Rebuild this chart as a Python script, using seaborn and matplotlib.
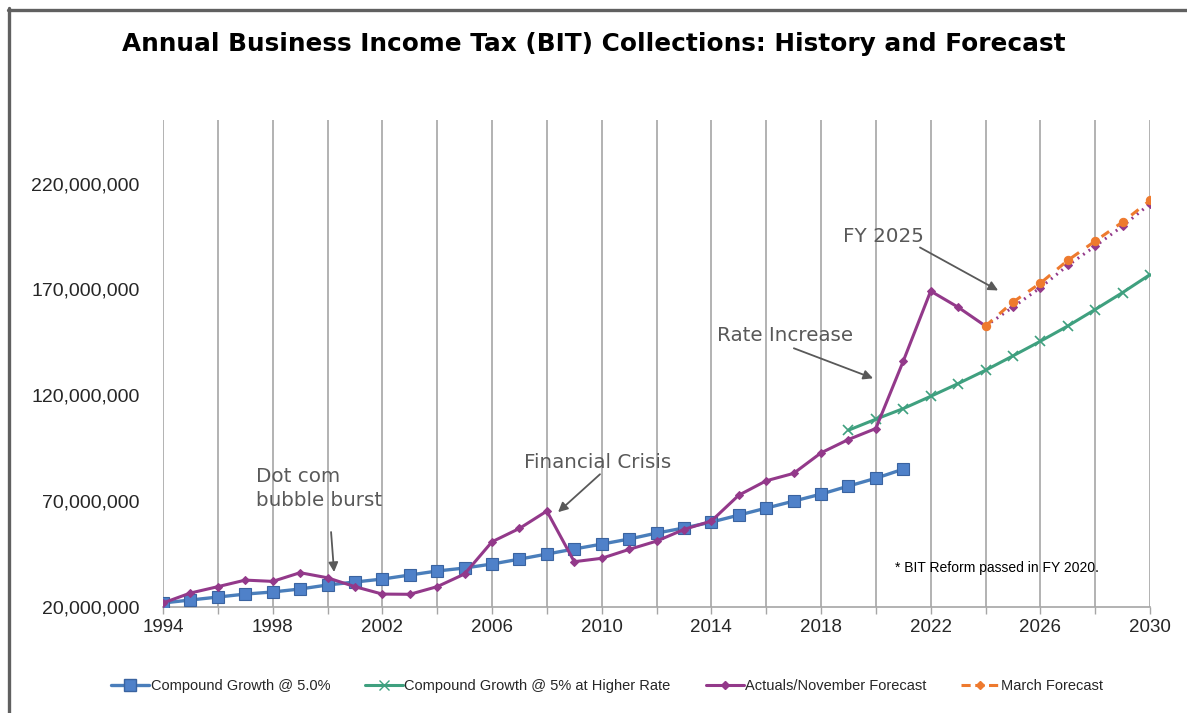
import numpy as np
import pandas as pd
import matplotlib
matplotlib.use("Agg")
import matplotlib.pyplot as plt
from matplotlib.lines import Line2D
import seaborn as sns

# ---- data (dollars, in millions) ----
years_hist = list(range(1994, 2022))
compound_5 = [21.9, 23.3, 24.7, 26.1, 27.1, 28.5, 30.4, 31.8, 33.2, 35.1,
              37.0, 38.4, 40.3, 42.6, 45.0, 47.4, 49.7, 52.1, 54.9, 57.3,
              60.1, 63.4, 66.7, 70.0, 73.3, 77.1, 80.8, 85.1]

years_higher = list(range(2019, 2031))
compound_higher = [103.5, 108.7, 113.7, 119.5, 125.5, 131.8, 138.6, 145.5,
                   152.7, 160.5, 168.5, 177.0]

years_actual = list(range(1994, 2025))
actuals = [21.9, 26.6, 29.6, 32.7, 32.1, 36.2, 33.8, 29.6, 26.1, 26.0,
           29.6, 35.6, 50.8, 57.1, 65.3, 41.4, 43.0, 47.2, 51.1, 56.6,
           60.6, 72.8, 79.6, 83.1, 92.8, 99.1, 104.3, 136.1, 169.2, 161.6,
           152.7]

years_fcst = list(range(2024, 2031))
november_fcst = [152.7, 161.6, 170.8, 181.3, 190.4, 199.9, 210.4]
march_fcst = [152.7, 164.0, 172.9, 183.7, 192.8, 201.8, 212.0]

y_ticks = [20, 70, 120, 170, 220]
x_labels = [1994, 1998, 2002, 2006, 2010, 2014, 2018, 2022, 2026, 2030]

title = "Annual Business Income Tax (BIT) Collections: History and Forecast"
legend_labels = ["Compound Growth @ 5.0%", "Compound Growth @ 5% at Higher Rate",
                 "Actuals/November Forecast", "March Forecast"]

M = 1e6
df_c5 = pd.DataFrame({"year": years_hist, "value": np.array(compound_5) * M})
df_hi = pd.DataFrame({"year": years_higher, "value": np.array(compound_higher) * M})
df_act = pd.DataFrame({"year": years_actual, "value": np.array(actuals) * M})
df_nov = pd.DataFrame({"year": years_fcst, "value": np.array(november_fcst) * M})
df_mar = pd.DataFrame({"year": years_fcst, "value": np.array(march_fcst) * M})

# ---- style ----
sns.set_theme(style="white")
plt.rcParams["font.family"] = ["Liberation Sans", "DejaVu Sans"]

BLUE = "#4A7EBB"
BLUE_FACE = "#4F81C9"
GREEN = "#3FA07F"
PURPLE = "#93398A"
ORANGE = "#EE7A2E"
NOTE = "#595959"

fig = plt.figure(figsize=(11.87, 7.13), dpi=100)
ax = fig.add_axes([163 / 1187, 1 - 607 / 713, (1150 - 163) / 1187, (607 - 120) / 713])

sns.lineplot(data=df_c5, x="year", y="value", ax=ax, color=BLUE, lw=2.4,
             marker="s", markersize=8, markerfacecolor=BLUE_FACE,
             markeredgecolor="#3A63A0", markeredgewidth=0.8, zorder=4)
sns.lineplot(data=df_hi, x="year", y="value", ax=ax, color=GREEN, lw=2.2,
             marker="x", markersize=7, markeredgecolor=GREEN,
             markeredgewidth=1.2, zorder=4)
sns.lineplot(data=df_act, x="year", y="value", ax=ax, color=PURPLE, lw=2.2,
             marker="D", markersize=4, markerfacecolor=PURPLE,
             markeredgecolor=PURPLE, zorder=5)
sns.lineplot(data=df_nov, x="year", y="value", ax=ax, color=PURPLE, lw=2.2,
             linestyle=(0, (0.6, 1.6)), marker="D", markersize=4,
             markerfacecolor=PURPLE, markeredgecolor=PURPLE, zorder=5)
sns.lineplot(data=df_mar, x="year", y="value", ax=ax, color=ORANGE, lw=2.2,
             linestyle=(0, (3, 3)), marker="o", markersize=6,
             markerfacecolor=ORANGE, markeredgecolor=ORANGE, zorder=6)

# ---- axes ----
ax.set_xlim(1994, 2030)
ax.set_ylim(20 * M, 250 * M)
ax.set_xticks(range(1994, 2031, 2))
ax.set_xticklabels([str(y) if y in x_labels else "" for y in range(1994, 2031, 2)],
                   fontsize=13.5)
ax.set_yticks([v * M for v in y_ticks])
ax.set_yticklabels([f"{v * 1_000_000:,.0f}" for v in y_ticks], fontsize=14)
ax.tick_params(axis="x", direction="out", length=5, width=1, color="#A6A6A6",
               pad=4, bottom=True)
ax.tick_params(axis="y", length=0, pad=17)
ax.set_xlabel("")
ax.set_ylabel("")
ax.grid(axis="x", color="#A6A6A6", lw=1.2)
ax.grid(axis="y", visible=False)
for side in ["top", "right", "left"]:
    ax.spines[side].set_visible(False)
ax.spines["bottom"].set_color("#A6A6A6")
ax.spines["bottom"].set_linewidth(1.2)
if ax.get_legend() is not None:
    ax.get_legend().remove()

# ---- annotations ----
arrow = dict(arrowstyle="-|>", color=NOTE, lw=1.3, mutation_scale=14,
             shrinkA=0, shrinkB=0)
note_font = dict(fontsize=14.3, color=NOTE, family=["DejaVu Sans"])

ax.text(1997.39, 86.2 * M, "Dot com\nbubble burst", va="top", ha="left",
        linespacing=1.32, **note_font)
ax.annotate("", xy=(2000.24, 36.5 * M), xytext=(2000.13, 55.4 * M), arrowprops=arrow)

ax.text(2007.17, 92.6 * M, "Financial Crisis", va="top", ha="left", **note_font)
ax.annotate("", xy=(2008.41, 64.8 * M), xytext=(2009.94, 82.7 * M), arrowprops=arrow)

ax.text(2014.21, 152.5 * M, "Rate Increase", va="top", ha="left", **note_font)
ax.annotate("", xy=(2019.90, 128.0 * M), xytext=(2017.01, 142.2 * M), arrowprops=arrow)

ax.text(2018.80, 199.6 * M, "FY 2025", va="top", ha="left", **note_font)
ax.annotate("", xy=(2024.46, 169.5 * M), xytext=(2021.61, 189.8 * M), arrowprops=arrow)

ax.text(2020.70, 38.4 * M, "* BIT Reform passed in FY 2020.", va="center",
        ha="left", fontsize=10, color="black")

# ---- title ----
fig.text(594 / 1187, 1 - 44 / 713, title, ha="center", va="center",
         fontsize=17.8, fontweight="bold", color="black", family=["DejaVu Sans"])

# ---- legend ----
handles = [
    Line2D([], [], color=BLUE, lw=2.4, marker="s", markersize=8,
           markerfacecolor=BLUE_FACE, markeredgecolor="#3A63A0"),
    Line2D([], [], color=GREEN, lw=2.2, marker="x", markersize=7,
           markeredgecolor=GREEN),
    Line2D([], [], color=PURPLE, lw=2.2, marker="D", markersize=4),
    Line2D([], [], color=ORANGE, lw=2.2, linestyle=(0, (3, 1.5)), marker="D",
           markersize=4),
]
fig.legend(handles, legend_labels, loc="center", ncol=4, frameon=False,
           bbox_to_anchor=(607 / 1187, 1 - 686 / 713), fontsize=10.5,
           handlelength=2.6, handletextpad=0.1, columnspacing=2.4)

# ---- outer frame on left and top ----
fig.add_artist(Line2D([9.5 / 1187, 9.5 / 1187], [0, 1 - 8 / 713],
                      transform=fig.transFigure, color="#606060", lw=2.4))
fig.add_artist(Line2D([8 / 1187, 1], [1 - 9.5 / 713, 1 - 9.5 / 713],
                      transform=fig.transFigure, color="#606060", lw=2.4))

fig.savefig("out.png", dpi=100, facecolor="white")
